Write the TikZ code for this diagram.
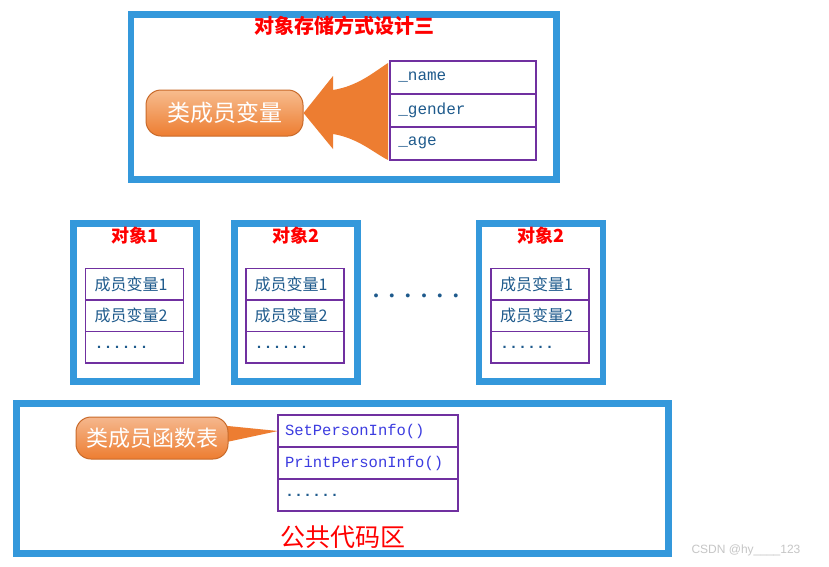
\documentclass[tikz,border=0pt]{standalone}
\usepackage{fontspec}
\setmainfont{Liberation Serif}
\newfontfamily\cjk{Noto Sans CJK SC}
\newfontfamily\codefont{Liberation Mono}
\newfontfamily\markfont{Liberation Sans}
\usetikzlibrary{positioning, calc}
\definecolor{frameBlue}{HTML}{3498DB}
\definecolor{cellPurple}{HTML}{7030A0}
\definecolor{textNavy}{HTML}{1E5A8C}
\definecolor{funcBlue}{HTML}{3C3CE0}
\definecolor{titleRed}{HTML}{FF0000}
\definecolor{calloutOrange}{HTML}{ED7D31}
\definecolor{calloutLight}{HTML}{F7BC8E}

\begin{document}
\begin{tikzpicture}[x=1pt, y=-1pt,
    frame/.style={draw=frameBlue, line width=6.5pt},
    objtitle/.style={text=titleRed, font=\cjk\bfseries\fontsize{18}{18}\selectfont, inner sep=0pt},
    cell/.style={draw=cellPurple, line width=1.8pt, outer sep=0pt, inner sep=0pt,
      minimum width=98pt, minimum height=31.5pt, text width=80pt, align=left,
      text=textNavy, font=\cjk\fontsize{16}{16}\selectfont},
    fieldcell/.style={cell, minimum width=146pt, minimum height=33pt, text width=130pt,
      font=\codefont\fontsize{16}{16}\selectfont},
    funccell/.style={cell, minimum width=180pt, minimum height=32pt, text width=166pt,
      text=funcBlue, font=\codefont\fontsize{15.5}{15.5}\selectfont},
    callout/.style={rounded corners=15pt, draw=calloutOrange!85!black, line width=1pt,
      top color=calloutLight, bottom color=calloutOrange, text=white, inner sep=0pt}
  ]
  \fill[white] (0,0) rectangle (829,566);
  \useasboundingbox (0,0) rectangle (829,566);

  % top frame: storage design
  \draw[frame] (131,14.5) rectangle (556.5,179.5);
  \node[text=titleRed, font=\cjk\bfseries\fontsize{20}{20}\selectfont] (title) at (344,26) {对象存储方式设计三};

  \node[fieldcell] (fname) at (463.3,77.3) {\_name};
  \node[fieldcell, below=0pt of fname] (fgender) {\_gender};
  \node[fieldcell, below=0pt of fgender] (fage) {\_age};

  \node[callout, minimum width=157pt, minimum height=46pt, font=\cjk\fontsize{23}{23}\selectfont] (mcall) at (224.5,113) {类成员变量};
  \fill[calloutOrange] (mcall.east) -- (333,76) -- (333,90)
    .. controls (358,86) and (374,72) .. (388,63) -- (388,160)
    .. controls (374,153) and (358,138) .. (333,134) -- (333,149) -- cycle;

  % objects
  \draw[frame] (73.5,223.5) rectangle (196.5,381.5);
  \node[objtitle] (t1) at (135,236) {对象1};
  \node[cell] (o1a) at (134.5,284.2) {成员变量1};
  \node[cell, below=0pt of o1a] (o1b) {成员变量2};
  \node[cell, below=0pt of o1b, font=\codefont\bfseries\fontsize{15}{15}\selectfont] (o1c) {......};

  \draw[frame] (234.5,223.5) rectangle (357.5,381.5);
  \node[objtitle] (t2) at (296,236) {对象2};
  \node[cell] (o2a) at (294.7,284.2) {成员变量1};
  \node[cell, below=0pt of o2a] (o2b) {成员变量2};
  \node[cell, below=0pt of o2b, font=\codefont\bfseries\fontsize{15}{15}\selectfont] (o2c) {......};

  \node[text=textNavy, font=\bfseries\fontsize{24}{24}\selectfont, inner sep=0pt] (more) at (416,296)
    {.\hspace{10pt}.\hspace{10pt}.\hspace{10pt}.\hspace{10pt}.\hspace{10pt}.};

  \draw[frame] (479,223.5) rectangle (603,381.5);
  \node[objtitle] (t3) at (541,236) {对象2};
  \node[cell] (o3a) at (540.2,284.2) {成员变量1};
  \node[cell, below=0pt of o3a] (o3b) {成员变量2};
  \node[cell, below=0pt of o3b, font=\codefont\bfseries\fontsize{15}{15}\selectfont] (o3c) {......};

  % shared code area
  \draw[frame] (16.5,403.5) rectangle (668.5,553.5);
  \node[funccell] (func1) at (368,431) {SetPersonInfo()};
  \node[funccell, below=0pt of func1] (func2) {PrintPersonInfo()};
  \node[funccell, below=0pt of func2, text=textNavy, font=\codefont\bfseries\fontsize{15}{15}\selectfont] (func3) {......};

  \fill[calloutOrange] ($(func1.west)+(-70,-7)$) -- (func1.west) -- ($(func1.west)+(-70,15)$) -- cycle;
  \node[callout, top color=calloutOrange!55!white, minimum width=152pt, minimum height=42pt,
    font=\cjk\fontsize{22}{22}\selectfont] (fcall) at (152,438) {类成员函数表};

  \node[text=titleRed, font=\cjk\fontsize{25}{25}\selectfont] (area) at (343,537) {公共代码区};

  \node[anchor=west, text=gray!45, font=\markfont\fontsize{12}{12}\selectfont] (mark) at (688,550) {CSDN @hy\_\_\_\_123};
\end{tikzpicture}
\end{document}
